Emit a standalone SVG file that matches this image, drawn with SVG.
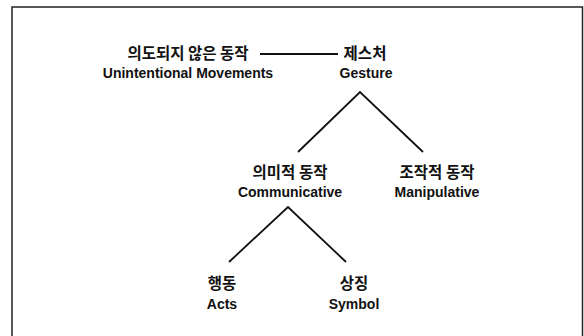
<svg xmlns="http://www.w3.org/2000/svg" width="584" height="336" viewBox="0 0 584 336">
<style>
.ko{font-family:"Noto Sans CJK KR","Noto Sans",sans-serif;font-weight:700;font-size:15.5px;fill:#111;text-anchor:middle}
.en{font-family:"Liberation Sans",Arial,sans-serif;font-weight:700;font-size:14px;fill:#111;text-anchor:middle}
.ln{stroke:#111;stroke-width:1.8;fill:none}
</style>
<rect x="0" y="0" width="584" height="336" fill="#fff"/>
<path d="M12,340 L12,7 L582.5,7 L582.5,340" fill="none" stroke="#222" stroke-width="1.5"/>
<g id="connectors">
<line class="ln" x1="260" y1="54" x2="338" y2="54" stroke-width="1.4"/>
<polyline class="ln" points="298,152 360,92 423,152"/>
<polyline class="ln" points="229,262 288,207 346,262"/>
</g>
<g id="unintentional">
<text class="ko" x="188" y="59">의도되지 않은 동작</text>
<text class="en" x="188" y="78">Unintentional Movements</text>
</g>
<g id="gesture">
<text class="ko" x="365" y="59">제스처</text>
<text class="en" x="366" y="78">Gesture</text>
</g>
<g id="communicative">
<text class="ko" x="290" y="178">의미적 동작</text>
<text class="en" x="290" y="197">Communicative</text>
</g>
<g id="manipulative">
<text class="ko" x="437" y="178">조작적 동작</text>
<text class="en" x="437" y="197">Manipulative</text>
</g>
<g id="acts">
<text class="ko" x="222" y="289">행동</text>
<text class="en" x="222" y="309">Acts</text>
</g>
<g id="symbol">
<text class="ko" x="354" y="289">상징</text>
<text class="en" x="354" y="309">Symbol</text>
</g>
</svg>
